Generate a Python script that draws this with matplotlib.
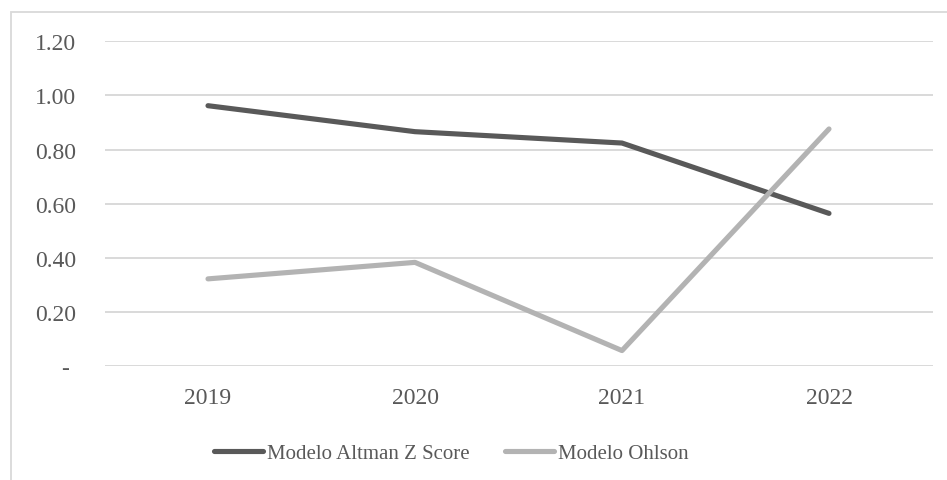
import matplotlib
matplotlib.use("Agg")
import matplotlib.pyplot as plt
from matplotlib.patches import Rectangle

# ── Data ───────────────────────────────────────────────────
YEARS = ["2019", "2020", "2021", "2022"]
ALTMAN = [0.962, 0.866, 0.824, 0.564]
OHLSON = [0.322, 0.383, 0.057, 0.876]
YTICKS = [0.0, 0.2, 0.4, 0.6, 0.8, 1.0, 1.2]

DARK = "#595959"
LIGHT = "#b3b3b3"
GRID = "#d9d9d9"

plt.rcParams.update({
    "font.family": ["Liberation Serif", "DejaVu Serif"],
    "font.size": 15,
})


def ylabel(v):
    # Excel accounting format shows zero as a dash with trailing padding
    return "- " if v == 0 else f"{v:.2f}"


fig = plt.figure(figsize=(9.47, 4.81), dpi=100)
# outer chart frame (cropped at right and bottom as in the source)
fig.patches.append(Rectangle((11 / 947, -0.1), 2.0, 1 - 13 / 481 + 0.1,
                             transform=fig.transFigure, fill=False,
                             edgecolor=GRID, linewidth=1.3))

ax = fig.add_axes([104.5 / 947, 1 - 367 / 481, 828 / 947, 324.7 / 481])
x = range(len(YEARS))
ax.plot(x, ALTMAN, color=DARK, linewidth=3.7, solid_capstyle="round",
        solid_joinstyle="round", label="Modelo Altman Z Score", zorder=3)
ax.plot(x, OHLSON, color=LIGHT, linewidth=3.7, solid_capstyle="round",
        solid_joinstyle="round", label="Modelo Ohlson", zorder=3)

ax.set_xlim(-0.5, len(YEARS) - 0.5)
ax.set_ylim(0, 1.2)
ax.set_xticks(list(x))
ax.set_xticklabels(YEARS)
ax.set_yticks(YTICKS)
ax.set_yticklabels([ylabel(v) for v in YTICKS])
ax.tick_params(length=0, colors=DARK, labelsize=17)
ax.tick_params(axis="y", pad=20.5)
ax.tick_params(axis="x", pad=15)
for s in ax.spines.values():
    s.set_visible(False)
ax.yaxis.grid(True, color=GRID, linewidth=1.4)
ax.set_axisbelow(True)

leg = fig.legend(loc="center", bbox_to_anchor=(451 / 947, 1 - 454 / 481), ncol=2,
                 frameon=False, handlelength=2.35, handletextpad=0.2,
                 columnspacing=1.7, fontsize=15)
for t in leg.get_texts():
    t.set_color(DARK)

fig.savefig("out.png", dpi=100)
